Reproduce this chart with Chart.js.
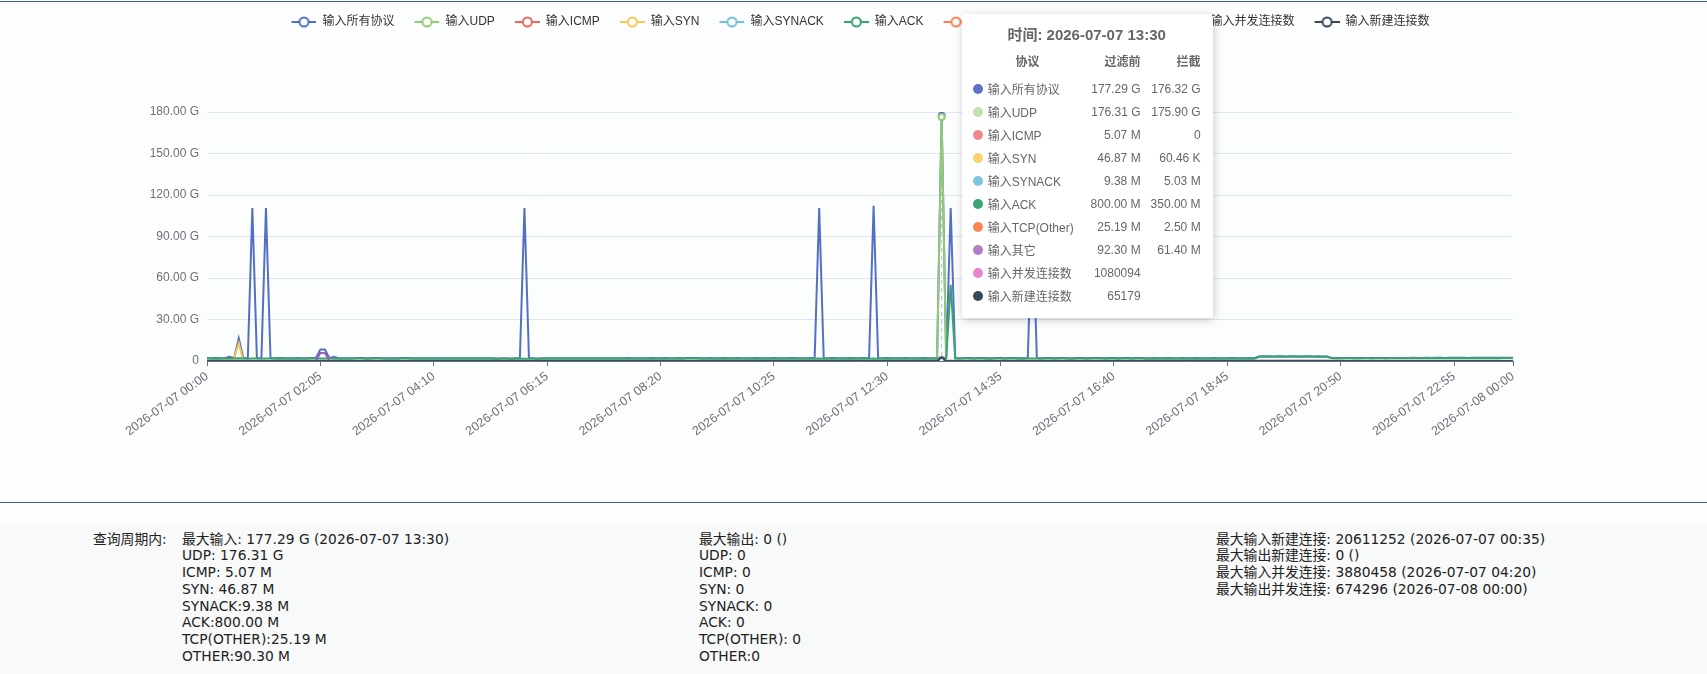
<!DOCTYPE html>
<html>
<head>
<meta charset="utf-8">
<script src="https://cdn.jsdelivr.net/npm/chart.js@4.4.0/dist/chart.umd.min.js"></script>
<style>
  body { margin: 0; width: 1707px; height: 674px; overflow: hidden; position: relative; background: #fcfdfd; font-family: "Liberation Sans", "Noto Sans CJK SC", sans-serif; }
  #topLine { position: absolute; left: 0; top: 1px; width: 1707px; height: 1px; background: #3d6189; }
  #chartBox { position: absolute; left: 0; top: 0; width: 1707px; height: 502px; }
  #sep { position: absolute; left: 0; top: 502px; width: 1707px; height: 1px; background: #3d6189; }
  #summary { position: absolute; left: 0; top: 523px; width: 1707px; height: 151px; background: #f8f9f9; color: #222; font: 13.8px "DejaVu Sans", "Noto Sans CJK SC", sans-serif; line-height: 16.75px; }
  #summary div { position: absolute; top: 7.6px; white-space: pre; }
  #tip { position: absolute; top: 14px; display: none; width: 251px; height: 304px; box-sizing: border-box; padding: 11px 12px 0 11px; background: #fff; border-radius: 4px; box-shadow: 1px 2px 10px rgba(0,0,0,0.2); color: #666; font-size: 12px; z-index: 2; }
  #tip .tt { font-size: 15px; font-weight: bold; line-height: 20px; text-align: center; }
  #tip .th { display: flex; margin-top: 7px; height: 20px; line-height: 20px; font-weight: bold; margin-bottom: 5px; }
  #tip .tr { display: flex; align-items: center; height: 23px; }
  #tip .c1 { width: 110px; text-align: center; }
  #tip .c2 { width: 58px; text-align: right; white-space: nowrap; }
  #tip .c3 { width: 60px; text-align: right; white-space: nowrap; }
  #tip .nm { width: 95px; white-space: nowrap; }
  #tip i { flex: none; width: 10px; height: 10px; border-radius: 50%; margin-right: 5px; }
</style>
</head>
<body>
<div id="topLine"></div>
<div id="chartBox"><canvas id="myChart"></canvas></div>
<div id="tip"></div>
<div id="sep"></div>
<div id="summary">
<div style="left:93px">查询周期内:</div>
<div style="left:182px">最大输入: 177.29 G (2026-07-07 13:30)
UDP: 176.31 G
ICMP: 5.07 M
SYN: 46.87 M
SYNACK:9.38 M
ACK:800.00 M
TCP(OTHER):25.19 M
OTHER:90.30 M</div>
<div style="left:699px">最大输出: 0 ()
UDP: 0
ICMP: 0
SYN: 0
SYNACK: 0
ACK: 0
TCP(OTHER): 0
OTHER:0</div>
<div style="left:1216px">最大输入新建连接: 20611252 (2026-07-07 00:35)
最大输出新建连接: 0 ()
最大输入并发连接: 3880458 (2026-07-07 04:20)
最大输出并发连接: 674296 (2026-07-08 00:00)</div>
</div>
<script>
// time axis: 5 minute slots of 2026-07-07 plus the closing slot
const day = "2026-07-07";
const hours = ["00","01","02","03","04","05","06","07","08","09","10","11","12","13","14","15","16","17","18","19","20","21","22","23"];
const minutes = ["00","05","10","15","20","25","30","35","40","45","50","55"];
const lastLabel = "2026-07-08 00:00";
const timeLabels = hours.flatMap(h => minutes.map(m => day + " " + h + ":" + m)).concat([lastLabel]);

const seriesNames = ["输入所有协议", "输入UDP", "输入ICMP", "输入SYN", "输入SYNACK", "输入ACK", "输入TCP(Other)", "输入其它", "输入并发连接数", "输入新建连接数"];
const seriesColors = ["#5470c6", "#91cc75", "#ee6666", "#fac858", "#73c0de", "#3ba272", "#fc8452", "#9a60b4", "#ea7ccc", "#34495e"];
const tipDotColors = ["#5a73c8", "#bfe3ad", "#f08a8a", "#fcd06f", "#7fc4e0", "#3ba272", "#fc8452", "#b07fc3", "#ea84d0", "#34495e"];

// traffic, in G (one row per hour)
const inAll = [
  2.1,2.0,2.1,2.0,2.2,3.1,2.1,16.4,2.1,2.0,110.5,2.1,
  2.0,110.5,2.1,2.0,2.1,2.0,1.9,2.0,2.1,2.0,2.0,2.1,
  2.1,8.3,8.3,2.1,3.1,2.0,2.0,1.9,2.0,2.1,2.1,2.0,
  2.0,2.1,2.1,2.0,1.9,2.0,2.0,2.1,2.1,2.0,2.0,1.9,
  1.9,2.0,2.0,1.9,1.9,2.0,1.9,1.9,2.0,1.9,1.9,2.0,
  1.9,1.9,2.0,1.9,1.8,1.9,1.9,1.8,1.9,1.9,110.5,1.9,
  1.9,1.8,1.9,1.9,2.0,1.9,1.9,2.0,1.9,1.9,2.0,2.0,
  1.9,2.0,2.0,1.9,2.0,2.0,2.0,1.9,2.0,2.1,2.0,2.0,
  2.0,2.0,2.1,2.0,2.0,2.1,2.0,2.0,2.1,2.0,2.1,2.2,
  2.1,2.0,2.0,2.1,2.0,2.0,2.1,2.0,2.0,2.1,2.0,2.0,
  2.0,2.1,2.0,2.0,2.0,2.1,2.0,2.0,2.0,2.1,2.0,2.0,
  2.0,2.1,2.0,110.5,2.0,2.0,2.1,2.0,2.0,2.0,2.1,2.0,
  2.0,2.1,2.0,112.2,2.0,2.0,2.1,2.0,2.0,2.0,2.1,2.0,
  2.0,2.0,2.1,2.0,2.0,2.1,177.29,2.1,110.5,2.1,2.0,2.1,
  2.1,2.0,2.1,2.1,2.0,2.0,2.1,2.1,2.0,2.1,2.1,2.0,
  2.0,2.1,110.0,2.1,2.0,2.1,2.1,2.0,2.1,2.1,2.0,2.0,
  2.1,2.1,2.0,2.1,2.2,2.1,2.0,2.1,2.1,2.0,2.1,2.1,
  2.0,2.1,2.1,2.0,2.0,2.1,2.0,2.0,2.1,2.0,2.0,2.1,
  2.0,2.0,2.1,2.0,2.0,2.0,2.1,2.0,2.0,2.0,2.1,2.0,
  2.0,2.0,2.1,2.0,3.3,3.4,3.4,3.3,3.4,3.4,3.3,3.4,
  3.4,3.3,3.4,3.4,3.3,3.4,3.3,3.3,2.2,2.1,2.1,2.2,
  2.2,2.1,2.1,2.2,2.2,2.1,2.2,2.2,2.1,2.2,2.2,2.2,
  2.2,2.2,2.3,2.2,2.2,2.3,2.2,2.3,2.3,2.2,2.3,2.3,
  2.3,2.3,2.2,2.3,2.3,2.4,2.3,2.3,2.4,2.3,2.4,2.4,
  2.4
];
const inUdp = [
  0.2,0.2,0.2,0.2,0.3,0.9,0.2,0.3,0.2,0.2,0.2,0.2,
  0.2,0.2,0.2,0.2,0.2,0.2,0.2,0.2,0.2,0.2,0.2,0.2,
  0.2,0.3,0.3,0.2,0.6,0.2,0.2,0.2,0.2,0.2,0.2,0.2,
  0.2,0.2,0.2,0.2,0.2,0.2,0.2,0.2,0.2,0.2,0.2,0.2,
  0.2,0.2,0.2,0.2,0.2,0.2,0.2,0.2,0.2,0.2,0.2,0.2,
  0.2,0.2,0.2,0.2,0.2,0.2,0.2,0.2,0.2,0.2,0.3,0.2,
  0.2,0.2,0.2,0.2,0.2,0.2,0.2,0.2,0.2,0.2,0.2,0.2,
  0.2,0.2,0.2,0.2,0.2,0.2,0.2,0.2,0.2,0.2,0.2,0.2,
  0.2,0.2,0.2,0.2,0.2,0.2,0.2,0.2,0.2,0.2,0.2,0.2,
  0.2,0.2,0.2,0.2,0.2,0.2,0.2,0.2,0.2,0.2,0.2,0.2,
  0.2,0.2,0.2,0.2,0.2,0.2,0.2,0.2,0.2,0.2,0.2,0.2,
  0.2,0.2,0.2,0.3,0.2,0.2,0.2,0.2,0.2,0.2,0.2,0.2,
  0.2,0.2,0.2,0.3,0.2,0.2,0.2,0.2,0.2,0.2,0.2,0.2,
  0.2,0.2,0.2,0.2,0.2,0.2,176.31,0.2,0.3,0.2,0.2,0.2,
  0.2,0.2,0.2,0.2,0.2,0.2,0.2,0.2,0.2,0.2,0.2,0.2,
  0.2,0.2,0.3,0.2,0.2,0.2,0.2,0.2,0.2,0.2,0.2,0.2,
  0.2,0.2,0.2,0.2,0.2,0.2,0.2,0.2,0.2,0.2,0.2,0.2,
  0.2,0.2,0.2,0.2,0.2,0.2,0.2,0.2,0.2,0.2,0.2,0.2,
  0.2,0.2,0.2,0.2,0.2,0.2,0.2,0.2,0.2,0.2,0.2,0.2,
  0.2,0.2,0.2,0.2,0.2,0.2,0.2,0.2,0.2,0.2,0.2,0.2,
  0.2,0.2,0.2,0.2,0.2,0.2,0.2,0.2,0.2,0.2,0.2,0.2,
  0.2,0.2,0.2,0.2,0.2,0.2,0.2,0.2,0.2,0.2,0.2,0.2,
  0.2,0.2,0.2,0.2,0.2,0.2,0.2,0.2,0.2,0.2,0.2,0.2,
  0.2,0.2,0.2,0.2,0.2,0.2,0.2,0.2,0.2,0.2,0.2,0.2,
  0.2
];
const inIcmp = [
  0.005,0.004,0.005,0.005,0.004,0.005,0.006,0.005,0.005,0.004,0.005,0.005,
  0.004,0.005,0.005,0.004,0.005,0.005,0.004,0.005,0.005,0.004,0.005,0.005,
  0.005,0.005,0.004,0.005,0.005,0.004,0.005,0.005,0.004,0.005,0.005,0.004,
  0.005,0.004,0.005,0.005,0.004,0.005,0.005,0.004,0.005,0.005,0.004,0.005,
  0.004,0.005,0.005,0.004,0.005,0.005,0.004,0.005,0.005,0.004,0.005,0.005,
  0.005,0.004,0.005,0.005,0.004,0.005,0.005,0.004,0.005,0.005,0.004,0.005,
  0.004,0.005,0.005,0.004,0.005,0.005,0.004,0.005,0.005,0.004,0.005,0.005,
  0.005,0.004,0.005,0.005,0.004,0.005,0.005,0.004,0.005,0.005,0.004,0.005,
  0.004,0.005,0.005,0.004,0.005,0.005,0.004,0.005,0.005,0.004,0.005,0.005,
  0.005,0.004,0.005,0.005,0.004,0.005,0.005,0.004,0.005,0.005,0.004,0.005,
  0.004,0.005,0.005,0.004,0.005,0.005,0.004,0.005,0.005,0.004,0.005,0.005,
  0.005,0.004,0.005,0.005,0.004,0.005,0.005,0.004,0.005,0.005,0.004,0.005,
  0.004,0.005,0.005,0.004,0.005,0.005,0.004,0.005,0.005,0.004,0.005,0.005,
  0.005,0.004,0.005,0.005,0.004,0.005,0.00507,0.004,0.005,0.005,0.004,0.005,
  0.004,0.005,0.005,0.004,0.005,0.005,0.004,0.005,0.005,0.004,0.005,0.005,
  0.005,0.004,0.005,0.005,0.004,0.005,0.005,0.004,0.005,0.005,0.004,0.005,
  0.004,0.005,0.005,0.004,0.005,0.005,0.004,0.005,0.005,0.004,0.005,0.005,
  0.005,0.004,0.005,0.005,0.004,0.005,0.005,0.004,0.005,0.005,0.004,0.005,
  0.004,0.005,0.005,0.004,0.005,0.005,0.004,0.005,0.005,0.004,0.005,0.005,
  0.005,0.004,0.005,0.005,0.006,0.006,0.005,0.006,0.006,0.005,0.006,0.006,
  0.005,0.006,0.006,0.005,0.006,0.006,0.005,0.006,0.005,0.004,0.005,0.005,
  0.004,0.005,0.005,0.004,0.005,0.005,0.004,0.005,0.005,0.004,0.005,0.005,
  0.005,0.004,0.005,0.005,0.004,0.005,0.005,0.004,0.005,0.005,0.004,0.005,
  0.004,0.005,0.005,0.004,0.005,0.005,0.004,0.005,0.005,0.004,0.005,0.005,
  0.005
];
const inSyn = [
  0.04,0.04,0.05,0.04,0.06,0.30,2.10,12.8,0.05,0.04,0.04,0.05,
  0.04,0.04,0.05,0.04,0.04,0.05,0.04,0.04,0.05,0.04,0.04,0.05,
  0.04,0.05,0.05,0.04,0.04,0.05,0.04,0.04,0.05,0.04,0.04,0.05,
  0.04,0.04,0.05,0.04,0.04,0.05,0.04,0.04,0.05,0.04,0.04,0.05,
  0.04,0.04,0.05,0.04,0.04,0.05,0.04,0.04,0.05,0.04,0.04,0.05,
  0.04,0.04,0.05,0.04,0.04,0.05,0.04,0.04,0.05,0.04,0.04,0.05,
  0.04,0.04,0.05,0.04,0.04,0.05,0.04,0.04,0.05,0.04,0.04,0.05,
  0.04,0.04,0.05,0.04,0.04,0.05,0.04,0.04,0.05,0.04,0.04,0.05,
  0.04,0.04,0.05,0.04,0.04,0.05,0.04,0.04,0.05,0.04,0.04,0.05,
  0.04,0.04,0.05,0.04,0.04,0.05,0.04,0.04,0.05,0.04,0.04,0.05,
  0.04,0.04,0.05,0.04,0.04,0.05,0.04,0.04,0.05,0.04,0.04,0.05,
  0.04,0.04,0.05,0.04,0.04,0.05,0.04,0.04,0.05,0.04,0.04,0.05,
  0.04,0.04,0.05,0.04,0.04,0.05,0.04,0.04,0.05,0.04,0.04,0.05,
  0.04,0.04,0.05,0.04,0.04,0.05,0.04687,0.04,0.05,0.04,0.04,0.05,
  0.04,0.04,0.05,0.04,0.04,0.05,0.04,0.04,0.05,0.04,0.04,0.05,
  0.04,0.04,0.05,0.04,0.04,0.05,0.04,0.04,0.05,0.04,0.04,0.05,
  0.04,0.04,0.05,0.04,0.04,0.05,0.04,0.04,0.05,0.04,0.04,0.05,
  0.04,0.04,0.05,0.04,0.04,0.05,0.04,0.04,0.05,0.04,0.04,0.05,
  0.04,0.04,0.05,0.04,0.04,0.05,0.04,0.04,0.05,0.04,0.04,0.05,
  0.04,0.04,0.05,0.04,0.05,0.06,0.05,0.05,0.06,0.05,0.05,0.06,
  0.05,0.05,0.06,0.05,0.05,0.06,0.05,0.05,0.05,0.04,0.04,0.05,
  0.04,0.04,0.05,0.04,0.04,0.05,0.04,0.04,0.05,0.04,0.04,0.05,
  0.04,0.04,0.05,0.04,0.04,0.05,0.04,0.04,0.05,0.04,0.04,0.05,
  0.04,0.04,0.05,0.04,0.04,0.05,0.04,0.04,0.05,0.04,0.04,0.05,
  0.05
];
const inSynack = [
  0.009,0.008,0.009,0.009,0.008,0.010,0.009,0.012,0.009,0.008,0.009,0.009,
  0.008,0.009,0.009,0.008,0.009,0.009,0.008,0.009,0.009,0.008,0.009,0.009,
  0.009,0.009,0.008,0.009,0.009,0.008,0.009,0.009,0.008,0.009,0.009,0.008,
  0.009,0.008,0.009,0.009,0.008,0.009,0.009,0.008,0.009,0.009,0.008,0.009,
  0.008,0.009,0.009,0.008,0.009,0.009,0.008,0.009,0.009,0.008,0.009,0.009,
  0.009,0.008,0.009,0.009,0.008,0.009,0.009,0.008,0.009,0.009,0.008,0.009,
  0.008,0.009,0.009,0.008,0.009,0.009,0.008,0.009,0.009,0.008,0.009,0.009,
  0.009,0.008,0.009,0.009,0.008,0.009,0.009,0.008,0.009,0.009,0.008,0.009,
  0.008,0.009,0.009,0.008,0.009,0.009,0.008,0.009,0.009,0.008,0.009,0.009,
  0.009,0.008,0.009,0.009,0.008,0.009,0.009,0.008,0.009,0.009,0.008,0.009,
  0.008,0.009,0.009,0.008,0.009,0.009,0.008,0.009,0.009,0.008,0.009,0.009,
  0.009,0.008,0.009,0.009,0.008,0.009,0.009,0.008,0.009,0.009,0.008,0.009,
  0.008,0.009,0.009,0.008,0.009,0.009,0.008,0.009,0.009,0.008,0.009,0.009,
  0.009,0.008,0.009,0.009,0.008,0.009,0.00938,0.008,0.009,0.009,0.008,0.009,
  0.008,0.009,0.009,0.008,0.009,0.009,0.008,0.009,0.009,0.008,0.009,0.009,
  0.009,0.008,0.009,0.009,0.008,0.009,0.009,0.008,0.009,0.009,0.008,0.009,
  0.008,0.009,0.009,0.008,0.009,0.009,0.008,0.009,0.009,0.008,0.009,0.009,
  0.009,0.008,0.009,0.009,0.008,0.009,0.009,0.008,0.009,0.009,0.008,0.009,
  0.008,0.009,0.009,0.008,0.009,0.009,0.008,0.009,0.009,0.008,0.009,0.009,
  0.009,0.008,0.009,0.009,0.010,0.011,0.010,0.010,0.011,0.010,0.010,0.011,
  0.010,0.010,0.011,0.010,0.010,0.011,0.010,0.010,0.009,0.008,0.009,0.009,
  0.008,0.009,0.009,0.008,0.009,0.009,0.008,0.009,0.009,0.008,0.009,0.009,
  0.009,0.008,0.009,0.009,0.008,0.009,0.009,0.008,0.009,0.009,0.008,0.009,
  0.008,0.009,0.009,0.008,0.009,0.009,0.008,0.009,0.009,0.008,0.009,0.009,
  0.009
];
const inAck = [
  1.8,1.7,1.8,1.7,1.8,1.9,1.8,1.9,1.8,1.7,1.8,1.8,
  1.7,1.8,1.8,1.7,1.8,1.7,1.6,1.7,1.8,1.7,1.7,1.8,
  1.8,1.8,1.8,1.8,1.8,1.7,1.7,1.6,1.7,1.8,1.8,1.7,
  1.7,1.8,1.8,1.7,1.6,1.7,1.7,1.8,1.8,1.7,1.7,1.6,
  1.6,1.7,1.7,1.6,1.6,1.7,1.6,1.6,1.7,1.6,1.6,1.7,
  1.6,1.6,1.7,1.6,1.5,1.6,1.6,1.5,1.6,1.6,1.6,1.6,
  1.6,1.5,1.6,1.6,1.7,1.6,1.6,1.7,1.6,1.6,1.7,1.7,
  1.6,1.7,1.7,1.6,1.7,1.7,1.7,1.6,1.7,1.8,1.7,1.7,
  1.7,1.7,1.8,1.7,1.7,1.8,1.7,1.7,1.8,1.7,1.8,1.9,
  1.8,1.7,1.7,1.8,1.7,1.7,1.8,1.7,1.7,1.8,1.7,1.7,
  1.7,1.8,1.7,1.7,1.7,1.8,1.7,1.7,1.7,1.8,1.7,1.7,
  1.7,1.8,1.7,1.8,1.7,1.7,1.8,1.7,1.7,1.7,1.8,1.7,
  1.7,1.8,1.7,1.8,1.7,1.7,1.8,1.7,1.7,1.7,1.8,1.7,
  1.7,1.7,1.8,1.7,1.7,1.8,0.8,1.8,55.0,1.8,1.7,1.8,
  1.8,1.7,1.8,1.8,1.7,1.7,1.8,1.8,1.7,1.8,1.8,1.7,
  1.7,1.8,1.8,1.8,1.7,1.8,1.8,1.7,1.8,1.8,1.7,1.7,
  1.8,1.8,1.7,1.8,1.9,1.8,1.7,1.8,1.8,1.7,1.8,1.8,
  1.7,1.8,1.8,1.7,1.7,1.8,1.7,1.7,1.8,1.7,1.7,1.8,
  1.7,1.7,1.8,1.7,1.7,1.7,1.8,1.7,1.7,1.7,1.8,1.7,
  1.7,1.7,1.8,1.7,3.0,3.1,3.1,3.0,3.1,3.1,3.0,3.1,
  3.1,3.0,3.1,3.1,3.0,3.1,3.0,3.0,1.9,1.8,1.8,1.9,
  1.9,1.8,1.8,1.9,1.9,1.8,1.9,1.9,1.8,1.9,1.9,1.9,
  1.9,1.9,2.0,1.9,1.9,2.0,1.9,2.0,2.0,1.9,2.0,2.0,
  2.0,2.0,1.9,2.0,2.0,2.1,2.0,2.0,2.1,2.0,2.1,2.1,
  2.1
];
const inTcpOther = [
  0.02,0.03,0.02,0.02,0.03,0.02,0.02,0.03,0.02,0.02,0.03,0.02,
  0.02,0.03,0.02,0.02,0.03,0.02,0.02,0.03,0.02,0.02,0.03,0.02,
  0.02,0.03,0.02,0.02,0.03,0.02,0.02,0.03,0.02,0.02,0.03,0.02,
  0.02,0.03,0.02,0.02,0.03,0.02,0.02,0.03,0.02,0.02,0.03,0.02,
  0.02,0.03,0.02,0.02,0.03,0.02,0.02,0.03,0.02,0.02,0.03,0.02,
  0.02,0.03,0.02,0.02,0.03,0.02,0.02,0.03,0.02,0.02,0.03,0.02,
  0.02,0.03,0.02,0.02,0.03,0.02,0.02,0.03,0.02,0.02,0.03,0.02,
  0.02,0.03,0.02,0.02,0.03,0.02,0.02,0.03,0.02,0.02,0.03,0.02,
  0.02,0.03,0.02,0.02,0.03,0.02,0.02,0.03,0.02,0.02,0.03,0.02,
  0.02,0.03,0.02,0.02,0.03,0.02,0.02,0.03,0.02,0.02,0.03,0.02,
  0.02,0.03,0.02,0.02,0.03,0.02,0.02,0.03,0.02,0.02,0.03,0.02,
  0.02,0.03,0.02,0.02,0.03,0.02,0.02,0.03,0.02,0.02,0.03,0.02,
  0.02,0.03,0.02,0.02,0.03,0.02,0.02,0.03,0.02,0.02,0.03,0.02,
  0.02,0.03,0.02,0.02,0.03,0.02,0.02519,0.03,0.02,0.02,0.03,0.02,
  0.02,0.03,0.02,0.02,0.03,0.02,0.02,0.03,0.02,0.02,0.03,0.02,
  0.02,0.03,0.02,0.02,0.03,0.02,0.02,0.03,0.02,0.02,0.03,0.02,
  0.02,0.03,0.02,0.02,0.03,0.02,0.02,0.03,0.02,0.02,0.03,0.02,
  0.02,0.03,0.02,0.02,0.03,0.02,0.02,0.03,0.02,0.02,0.03,0.02,
  0.02,0.03,0.02,0.02,0.03,0.02,0.02,0.03,0.02,0.02,0.03,0.02,
  0.02,0.03,0.02,0.02,0.03,0.03,0.03,0.03,0.03,0.03,0.03,0.03,
  0.03,0.03,0.03,0.03,0.03,0.03,0.03,0.03,0.02,0.02,0.03,0.02,
  0.02,0.03,0.02,0.02,0.03,0.02,0.02,0.03,0.02,0.02,0.03,0.02,
  0.02,0.03,0.02,0.02,0.03,0.02,0.02,0.03,0.02,0.02,0.03,0.02,
  0.02,0.03,0.02,0.02,0.03,0.02,0.02,0.03,0.02,0.02,0.03,0.02,
  0.02
];
const inOther = [
  0.08,0.09,0.08,0.08,0.09,0.08,0.08,0.09,0.08,0.08,0.09,0.08,
  0.08,0.09,0.08,0.08,0.09,0.08,0.08,0.09,0.08,0.08,0.09,0.08,
  0.09,5.8,5.8,0.09,0.10,0.08,0.08,0.09,0.08,0.08,0.09,0.08,
  0.08,0.09,0.08,0.08,0.09,0.08,0.08,0.09,0.08,0.08,0.09,0.08,
  0.08,0.09,0.08,0.08,0.09,0.08,0.08,0.09,0.08,0.08,0.09,0.08,
  0.08,0.09,0.08,0.08,0.09,0.08,0.08,0.09,0.08,0.08,0.09,0.08,
  0.08,0.09,0.08,0.08,0.09,0.08,0.08,0.09,0.08,0.08,0.09,0.08,
  0.08,0.09,0.08,0.08,0.09,0.08,0.08,0.09,0.08,0.08,0.09,0.08,
  0.08,0.09,0.08,0.08,0.09,0.08,0.08,0.09,0.08,0.08,0.09,0.08,
  0.08,0.09,0.08,0.08,0.09,0.08,0.08,0.09,0.08,0.08,0.09,0.08,
  0.08,0.09,0.08,0.08,0.09,0.08,0.08,0.09,0.08,0.08,0.09,0.08,
  0.08,0.09,0.08,0.08,0.09,0.08,0.08,0.09,0.08,0.08,0.09,0.08,
  0.08,0.09,0.08,0.08,0.09,0.08,0.08,0.09,0.08,0.08,0.09,0.08,
  0.08,0.09,0.08,0.08,0.09,0.08,0.0923,0.09,0.08,0.08,0.09,0.08,
  0.08,0.09,0.08,0.08,0.09,0.08,0.08,0.09,0.08,0.08,0.09,0.08,
  0.08,0.09,0.08,0.08,0.09,0.08,0.08,0.09,0.08,0.08,0.09,0.08,
  0.08,0.09,0.08,0.08,0.09,0.08,0.08,0.09,0.08,0.08,0.09,0.08,
  0.08,0.09,0.08,0.08,0.09,0.08,0.08,0.09,0.08,0.08,0.09,0.08,
  0.08,0.09,0.08,0.08,0.09,0.08,0.08,0.09,0.08,0.08,0.09,0.08,
  0.08,0.09,0.08,0.08,0.10,0.10,0.10,0.10,0.10,0.10,0.10,0.10,
  0.10,0.10,0.10,0.10,0.10,0.10,0.10,0.10,0.08,0.08,0.09,0.08,
  0.08,0.09,0.08,0.08,0.09,0.08,0.08,0.09,0.08,0.08,0.09,0.08,
  0.08,0.09,0.08,0.08,0.09,0.08,0.08,0.09,0.08,0.08,0.09,0.08,
  0.08,0.09,0.08,0.08,0.09,0.08,0.08,0.09,0.08,0.08,0.09,0.08,
  0.09
];
// connection counts (plain numbers, not bytes)
const inConcurrent = [
  1021430,1018872,1025410,1030215,1027730,1034120,1041563,1052209,1048916,1043380,1050271,1055630,
  1061027,1058214,1064390,1070153,1068844,1075301,1081562,1086217,1090833,1097420,1103318,1109206,
  1114727,1120830,1126419,1133052,1139774,1145201,1152386,1160914,1168247,1176015,1184590,1193702,
  1210483,1231096,1258370,1297614,1352081,1431905,1538260,1677412,1851097,2068530,2330148,2634071,
  2951820,3262419,3533710,3742866,3880458,3801274,3522695,3093718,2614053,2157492,1781540,1512807,
  1347902,1251638,1194025,1160733,1139481,1126250,1117846,1110372,1104618,1099315,1095203,1091748,
  1088532,1085911,1083274,1081019,1078930,1076805,1075147,1073620,1072218,1071003,1069842,1068917,
  1068104,1067452,1066981,1066507,1066213,1066025,1065931,1066004,1066238,1066519,1066942,1067380,
  1067911,1068452,1069127,1069805,1070571,1071303,1072094,1072860,1073612,1074381,1075147,1075902,
  1076618,1077305,1077983,1078540,1079067,1079530,1079918,1080205,1080417,1080552,1080609,1080586,
  1080491,1080332,1080114,1079860,1079603,1079370,1079184,1079051,1078973,1078950,1078992,1079087,
  1079231,1079405,1079588,1079763,1079912,1080021,1080093,1080134,1080148,1080141,1080122,1080105,
  1080091,1080082,1080079,1080080,1080084,1080089,1080092,1080094,1080095,1080095,1080094,1080094,
  1080093,1080093,1080094,1080094,1080094,1080094,1080094,1080096,1080102,1080110,1080118,1080121,
  1080114,1080097,1080073,1080048,1080026,1080011,1080005,1080008,1080017,1080030,1080041,1080048,
  1080044,1080028,1080001,1079968,1079934,1079906,1079889,1079885,1079894,1079914,1079940,1079966,
  1079986,1079995,1079990,1079970,1079939,1079902,1079866,1079838,1079823,1079824,1079841,1079871,
  1079908,1079945,1079974,1079989,1079987,1079968,1079935,1079894,1079853,1079820,1079800,1079797,
  1079811,1079841,1079880,1079920,1079953,1079972,1079973,1079955,1079922,1079880,1079838,1079804,
  1079786,1079787,1079807,1079842,1079884,1079924,1079954,1079967,1079960,1079935,1079897,1079853,
  1079813,1079784,1079772,1079780,1079806,1079844,1079885,1079921,1079943,1079946,1079929,1079897,
  1079856,1079816,1079784,1079768,1079772,1079793,1079827,1079866,1079901,1079923,1079927,1079912,
  1079882,1079843,1079804,1079773,1079757,1079760,1079780,1079812,1079848,1079879,1079897,1079897,
  1079879,1079849,1079813,1079781,1079760,1079755,1079767,1079792,1079824,1079855,1079877,1079884,
  1079874
];
const inNewConn = [
  61230,60874,62105,61842,63017,64210,1930512,20611252,2043876,68210,64302,63145,
  62780,63411,62957,62310,61884,62403,62921,63544,63210,62875,62419,62038,
  61795,62410,62987,63312,62905,62478,62033,61820,62106,62583,63014,63260,
  63541,63870,64212,64503,64127,63780,63401,63052,62764,62519,62318,62150,
  62013,61902,61835,61790,61802,61857,61930,62040,62187,62362,62548,62736,
  62912,63068,63195,63287,63342,63359,63340,63289,63212,63117,63011,62905,
  62809,62730,62676,62652,62659,62696,62760,62846,62948,63058,63170,63277,
  63373,63452,63510,63545,63555,63541,63506,63453,63387,63314,63241,63174,
  63119,63081,63064,63070,63099,63150,63220,63305,63400,63500,63599,63692,
  63775,63845,63899,63936,63956,63959,63946,63920,63883,63839,63792,63746,
  63705,63672,63651,63643,63650,63672,63708,63756,63813,63876,63942,64006,
  64066,64118,64160,64190,64206,64208,64197,64174,64141,64101,64058,64015,
  63975,63942,63918,63906,63906,63920,63946,63983,64029,64082,64139,64197,
  64253,64305,64349,64385,64410,64424,65179,64418,64401,64374,64340,64300,
  64258,64217,64179,64147,64123,64109,64106,64114,64133,64161,64197,64238,
  64281,64323,64361,64392,64413,64423,64421,64407,64382,64348,64307,64263,
  64219,64179,64146,64122,64109,64108,64119,64141,64172,64210,64252,64295,
  64335,64369,64395,64410,64413,64404,64384,64354,64317,64276,64235,64197,
  64165,64141,64128,64126,64135,64155,64183,64218,64257,64296,64332,64363,
  64385,64397,64398,64388,64368,64339,64304,64266,64228,64194,64166,64147,
  64138,64141,64154,64177,64207,64242,64279,64315,64346,64371,64387,64393,
  64388,64374,64351,64322,64289,64254,64221,64192,64170,64156,64152,64158,
  64174,64197,64226,64258,64290,64320,64345,64363,64372,64372,64363,64346,
  64322,64294,64263,64232,64204,64181,64165,64157,64158,64168,64186,64210,
  64238
];
// "拦截" column of the tooltip at the hovered slot, in G
const blockedAtHover = [176.32, 175.90, 0, 0.00006046, 0.00503, 0.35, 0.0025, 0.0614, null, null];
const hoverIndex = 162;
const yMin = 0, yMax = 180, yStep = 30;

const trafficSeries = [inAll, inUdp, inIcmp, inSyn, inSynack, inAck, inTcpOther, inOther];
const countSeries = [inConcurrent, inNewConn];

function fmtTraffic(g) {
  if (g === 0) return "0";
  const b = g * 1e9;
  if (b >= 1e9) return (b / 1e9).toFixed(2) + " G";
  if (b >= 1e6) return (b / 1e6).toFixed(2) + " M";
  if (b >= 1e3) return (b / 1e3).toFixed(2) + " K";
  return b.toFixed(0);
}

function legendIcon(color) {
  const c = document.createElement("canvas");
  c.width = 39; c.height = 14;
  const g = c.getContext("2d");
  g.strokeStyle = color; g.lineWidth = 2;
  g.beginPath(); g.moveTo(14, 7); g.lineTo(39, 7); g.stroke();
  g.beginPath(); g.arc(26.5, 7, 4.5, 0, Math.PI * 2);
  g.fillStyle = "#fff"; g.fill(); g.stroke();
  return c;
}
const icons = seriesColors.map(legendIcon);

function renderTip(context) {
  const chart = context.chart, tooltip = context.tooltip;
  const el = document.getElementById("tip");
  if (tooltip.opacity === 0 || !tooltip.dataPoints || !tooltip.dataPoints.length) { el.style.display = "none"; return; }
  const idx = tooltip.dataPoints[0].dataIndex;
  let html = '<div class="tt">时间: ' + timeLabels[idx] + '</div>' +
    '<div class="th"><span class="c1">协议</span><span class="c2">过滤前</span><span class="c3">拦截</span></div>';
  tooltip.dataPoints.slice().sort((a, b) => a.datasetIndex - b.datasetIndex).forEach(dp => {
    const i = dp.datasetIndex;
    const before = i < 8 ? fmtTraffic(trafficSeries[i][idx]) : String(countSeries[i - 8][idx]);
    const blocked = blockedAtHover[i] === null ? "" : fmtTraffic(blockedAtHover[i]);
    html += '<div class="tr"><i style="background:' + tipDotColors[i] + '"></i><span class="nm">' + seriesNames[i] +
      '</span><span class="c2">' + before + '</span><span class="c3">' + blocked + '</span></div>';
  });
  el.innerHTML = html;
  el.style.left = (chart.canvas.offsetLeft + tooltip.caretX + 20) + "px";
  el.style.display = "block";
}

// push the plot down below the legend
const legendGap = {
  id: "legendGap",
  beforeInit(chart) {
    const fit = chart.legend.fit;
    chart.legend.fit = function () { fit.call(this); this.height += 74; };
  }
};
// dashed axis pointer at the hovered slot
const axisPointer = {
  id: "axisPointer",
  beforeDatasetsDraw(chart) {
    const x = chart.scales.x.getPixelForValue(hoverIndex);
    const area = chart.chartArea, ctx = chart.ctx;
    ctx.save();
    ctx.strokeStyle = "#B9BEC9"; ctx.lineWidth = 1; ctx.setLineDash([4, 4]);
    ctx.beginPath(); ctx.moveTo(x, area.top); ctx.lineTo(x, area.bottom); ctx.stroke();
    ctx.restore();
  }
};

Chart.defaults.font.family = '"Liberation Sans", "Noto Sans CJK SC", sans-serif';
Chart.defaults.font.size = 12;

const datasets = seriesNames.map((name, i) => ({
  label: name,
  data: i < 8 ? trafficSeries[i] : countSeries[i - 8].map(c => c / 1e9),
  borderColor: seriesColors[i],
  backgroundColor: seriesColors[i],
  borderWidth: 2,
  pointRadius: 0,
  pointHoverRadius: 3,
  pointHoverBorderWidth: 2,
  pointHoverBackgroundColor: "#fff",
  pointHoverBorderColor: seriesColors[i],
  tension: 0,
  order: seriesNames.length - i
}));

const myChart = new Chart(document.getElementById("myChart"), {
  type: "line",
  data: { labels: timeLabels, datasets: datasets },
  plugins: [legendGap, axisPointer],
  options: {
    responsive: true,
    maintainAspectRatio: false,
    animation: false,
    events: [],
    layout: { padding: { top: 10, left: 147, right: 147, bottom: 0 } },
    interaction: { mode: "index", intersect: false },
    plugins: {
      legend: {
        position: "top",
        labels: {
          usePointStyle: true,
          pointStyleWidth: 39,
          boxHeight: 14,
          padding: 6,
          color: "#333",
          font: { size: 12 },
          sort: (a, b) => a.datasetIndex - b.datasetIndex,
          generateLabels(chart) {
            const items = Chart.defaults.plugins.legend.labels.generateLabels(chart);
            items.forEach(it => { it.pointStyle = icons[it.datasetIndex]; });
            return items;
          }
        }
      },
      tooltip: { enabled: false, external: renderTip }
    },
    scales: {
      x: {
        grid: { drawOnChartArea: false, drawTicks: true, tickLength: 5, color: "#6E7079" },
        border: { color: "#6E7079" },
        ticks: {
          autoSkip: false, maxRotation: 36, minRotation: 36, padding: 3, color: "#6E7079", font: { size: 12.5 },
          callback: (v, i) => (i % 25 === 0 || i === timeLabels.length - 1) ? timeLabels[i] : null
        },
        afterFit(s) { s.height = 141; }
      },
      y: {
        min: yMin, max: yMax,
        ticks: { stepSize: yStep, padding: 8, color: "#6E7079", callback: v => v === 0 ? "0" : v.toFixed(2) + " G" },
        grid: { color: "#E0E6F1", drawTicks: false },
        border: { display: false },
        afterFit(s) { s.width = 60; }
      },
      yRight: {
        type: "linear",
        position: "right",
        grid: { display: false },
        ticks: { display: false },
        border: { display: false },
        afterFit(s) { s.width = 47; }
      }
    }
  }
});

const active = datasets.map((d, i) => ({ datasetIndex: i, index: hoverIndex }));
myChart.setActiveElements(active);
myChart.tooltip.setActiveElements(active, { x: myChart.scales.x.getPixelForValue(hoverIndex), y: myChart.chartArea.top });
myChart.update();
</script>
</body>
</html>
